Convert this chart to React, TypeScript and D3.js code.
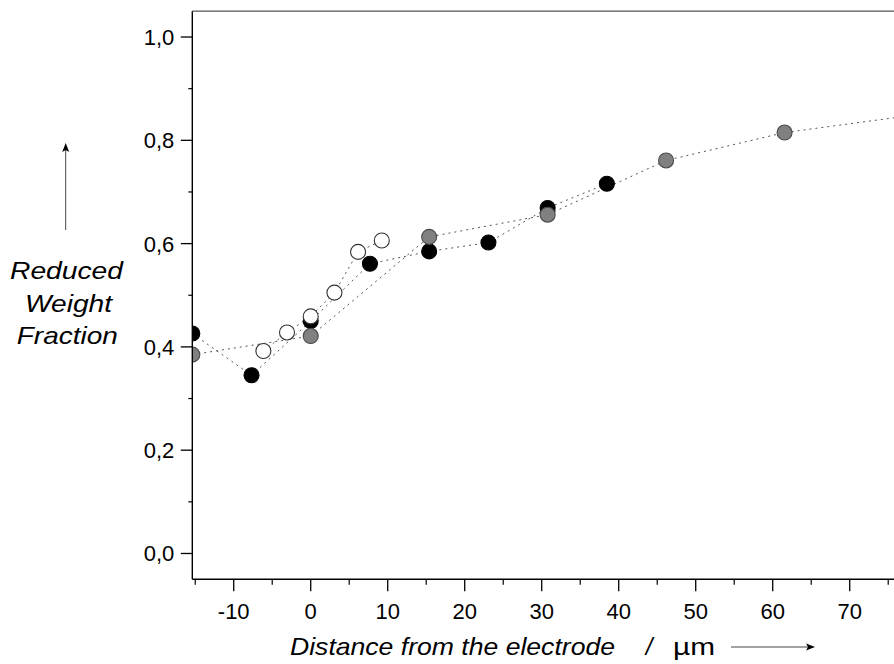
import React from "react";
import * as d3 from "d3";

const blackX = [-15.38, -7.69, 0, 7.69, 15.38, 23.08, 30.77, 38.46];
const blackY = [0.426, 0.345, 0.45, 0.561, 0.585, 0.602, 0.669, 0.716];
const grayX = [-15.38, 0, 15.38, 30.77, 46.15, 61.54, 76.92];
const grayY = [0.385, 0.421, 0.613, 0.656, 0.761, 0.815, 0.846];
const whiteX = [-6.15, -3.08, 0, 3.08, 6.15, 9.23];
const whiteY = [0.392, 0.428, 0.459, 0.505, 0.584, 0.606];

const xMajorTicks = [-10, 0, 10, 20, 30, 40, 50, 60, 70];
const xMajorLabels = ["-10", "0", "10", "20", "30", "40", "50", "60", "70"];
const xMinorTicks = [-15, -5, 5, 15, 25, 35, 45, 55, 65, 75];
const yMajorTicks = [0, 0.2, 0.4, 0.6, 0.8, 1.0];
const yMajorLabels = ["0,0", "0,2", "0,4", "0,6", "0,8", "1,0"];
const yMinorTicks = [0.1, 0.3, 0.5, 0.7, 0.9];

const yTitleLines = ["Reduced", "Weight", "Fraction"];
const xTitle = "Distance from the electrode";
const xUnit = "µm";

export default function App() {
  const W = 894;
  const H = 664;
  const x = d3.scaleLinear().domain([-15.38, 76.92]).range([192.3, 903]);
  const y = d3.scaleLinear().domain([-0.05, 1.05]).range([579.3, 11.2]);
  const x0 = x.range()[0];
  const y0 = y.range()[0];
  const yTop = y.range()[1];
  const font = "'Liberation Sans', Arial, Helvetica, sans-serif";

  const line = d3
    .line<[number, number]>()
    .x((d) => x(d[0]))
    .y((d) => y(d[1]));

  const series = [
    { xs: blackX, ys: blackY, fill: "#000", stroke: "#000" },
    { xs: grayX, ys: grayY, fill: "#808080", stroke: "#4a4a4a" },
    { xs: whiteX, ys: whiteY, fill: "#fff", stroke: "#333" },
  ];

  const r = 7.5;
  const yTitleX = [66.5, 68.5, 67.3];
  const yTitleBase = [278.5, 312, 344];
  const yTitleLen = [113, 87, 101];

  return (
    <svg
      width={W}
      height={H}
      style={{ position: "absolute", left: 0, top: 0, background: "#fff" }}
      fontFamily={font}
    >
      <defs>
        <clipPath id="plotClip">
          <rect x={x0} y={yTop} width={W - x0 + 20} height={y0 - yTop} />
        </clipPath>
      </defs>
      <rect x={0} y={0} width={W} height={H} fill="#fff" />

      {/* top frame */}
      <line x1={x0} x2={W} y1={yTop} y2={yTop} stroke="#555" strokeWidth={1.2} />

      {/* lines and markers */}
      <g clipPath="url(#plotClip)">
        {series.map((s, i) => (
          <path
            key={i}
            d={line(s.xs.map((v, j) => [v, s.ys[j]] as [number, number])) || ""}
            fill="none"
            stroke="#555"
            strokeWidth={1}
            strokeDasharray="2,4"
          />
        ))}
        {series.map((s, i) => (
          <g key={"m" + i}>
            {s.xs.map((v, j) => (
              <circle
                key={j}
                cx={x(v)}
                cy={y(s.ys[j])}
                r={r}
                fill={s.fill}
                stroke={s.stroke}
                strokeWidth={1.1}
              />
            ))}
          </g>
        ))}
      </g>

      {/* axes */}
      <line x1={x0} x2={x0} y1={yTop} y2={y0} stroke="#000" strokeWidth={1.4} />
      <line x1={x0} x2={W} y1={y0} y2={y0} stroke="#000" strokeWidth={1.4} />

      {yMajorTicks.map((t, i) => (
        <g key={"ym" + i}>
          <line x1={x0 - 11.5} x2={x0} y1={y(t)} y2={y(t)} stroke="#000" strokeWidth={1.3} />
          <text
            x={x0 - 18}
            y={y(t)}
            dy="0.36em"
            textAnchor="end"
            fontSize={22}
            fill="#000"
          >
            {yMajorLabels[i]}
          </text>
        </g>
      ))}
      {yMinorTicks.map((t, i) => (
        <line key={"yn" + i} x1={x0 - 4} x2={x0} y1={y(t)} y2={y(t)} stroke="#000" strokeWidth={1.2} />
      ))}

      {xMajorTicks.map((t, i) => (
        <g key={"xm" + i}>
          <line x1={x(t)} x2={x(t)} y1={y0} y2={y0 + 12} stroke="#000" strokeWidth={1.3} />
          <text x={x(t)} y={618.5} textAnchor="middle" fontSize={22} fill="#000">
            {xMajorLabels[i]}
          </text>
        </g>
      ))}
      {xMinorTicks.map((t, i) => (
        <line key={"xn" + i} x1={x(t)} x2={x(t)} y1={y0} y2={y0 + 5.5} stroke="#000" strokeWidth={1.2} />
      ))}

      {/* y title */}
      {yTitleLines.map((s, i) => (
        <text
          key={"yt" + i}
          x={yTitleX[i]}
          y={yTitleBase[i]}
          textAnchor="middle"
          fontSize={24}
          fontStyle="italic"
          textLength={yTitleLen[i]}
          lengthAdjust="spacingAndGlyphs"
          fill="#000"
        >
          {s}
        </text>
      ))}
      <line x1={65.7} x2={65.7} y1={230} y2={150} stroke="#444" strokeWidth={1} />
      <path d="M65.7,143 L62.2,152 L65.7,150 L69.2,152 Z" fill="#000" />

      {/* x title */}
      <text
        x={290}
        y={655}
        fontSize={24}
        fontStyle="italic"
        textLength={325}
        lengthAdjust="spacingAndGlyphs"
        fill="#000"
      >
        {xTitle}
      </text>
      <text x={649} y={655} textAnchor="middle" fontSize={24} fontStyle="italic" fill="#000">
        /
      </text>
      <text
        x={673}
        y={655}
        fontSize={24}
        textLength={42}
        lengthAdjust="spacingAndGlyphs"
        fill="#000"
      >
        {xUnit}
      </text>
      <line x1={731} x2={808} y1={647} y2={647} stroke="#444" strokeWidth={1} />
      <path d="M815,647 L806,643.5 L808,647 L806,650.5 Z" fill="#000" />
    </svg>
  );
}
